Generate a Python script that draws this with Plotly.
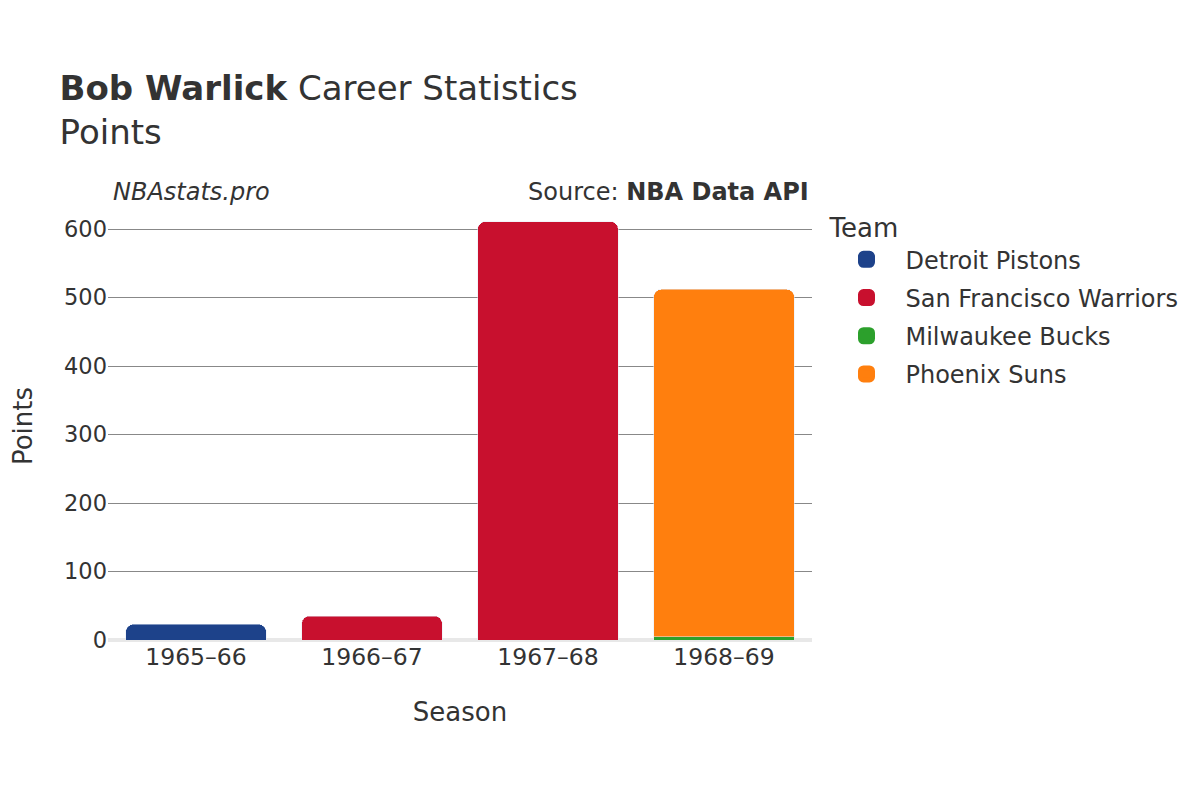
import plotly.graph_objects as go

seasons = ['1965–66', '1966–67', '1967–68', '1968–69']

# points per team per season (None = no games for that team)
detroit = [23, None, None, None]
warriors = [None, 35, 611, None]
bucks = [None, None, None, 5]
suns = [None, None, None, 507]

teams = [
    ('Detroit Pistons', detroit, '#1d428a'),
    ('San Francisco Warriors', warriors, '#c8102e'),
    ('Milwaukee Bucks', bucks, '#2ca02c'),
    ('Phoenix Suns', suns, '#ff7f0e'),
]

fig = go.Figure()
for name, vals, col in teams:
    fig.add_trace(go.Bar(x=seasons, y=vals, name=name, marker_color=col,
                         legendgroup=name, showlegend=False))
# legend-only entries with bigger swatches
for name, vals, col in teams:
    fig.add_trace(go.Bar(x=[seasons[0]], y=[None], name=name, legendgroup=name,
                         marker=dict(color=col, cornerradius=1,
                                     line=dict(color=col, width=10))))

fig.update_layout(
    barmode='stack',
    bargap=0.2,
    barcornerradius=8,
    width=1200, height=800,
    font=dict(family='DejaVu Sans', size=22, color='#333333'),
    plot_bgcolor='white', paper_bgcolor='white',
    title=dict(text='<b>Bob Warlick</b> Career Statistics<br>Points',
               x=0.043, xanchor='left', y=0.885, yanchor='top',
               font=dict(size=34)),
    margin=dict(l=100, r=396, t=204, b=168),
    legend=dict(title=dict(text='Team', font=dict(size=26)),
                traceorder='grouped', tracegroupgap=4, itemwidth=68,
                x=1.022, xanchor='left', y=1.02, yanchor='top',
                font=dict(size=24)),
    xaxis=dict(title=dict(text='Season', font=dict(size=26), standoff=33),
               tickfont=dict(size=23.5)),
    yaxis=dict(title=dict(text='Points', font=dict(size=26), standoff=41),
               tickfont=dict(size=22.5), automargin=False,
               gridcolor='#888888', zeroline=True, zerolinecolor='#e8e8e8',
               zerolinewidth=4, range=[0, 625], dtick=100),
    annotations=[
        dict(text='<i>NBAstats.pro</i>', x=0.004, y=1.01, xref='paper', yref='paper',
             xanchor='left', yanchor='bottom', showarrow=False, font=dict(size=24)),
        dict(text='Source: <b>NBA Data API</b>', x=0.998, y=1.01, xref='paper',
             yref='paper', xanchor='right', yanchor='bottom', showarrow=False,
             font=dict(size=24)),
    ],
)

fig.write_html('out.html')
